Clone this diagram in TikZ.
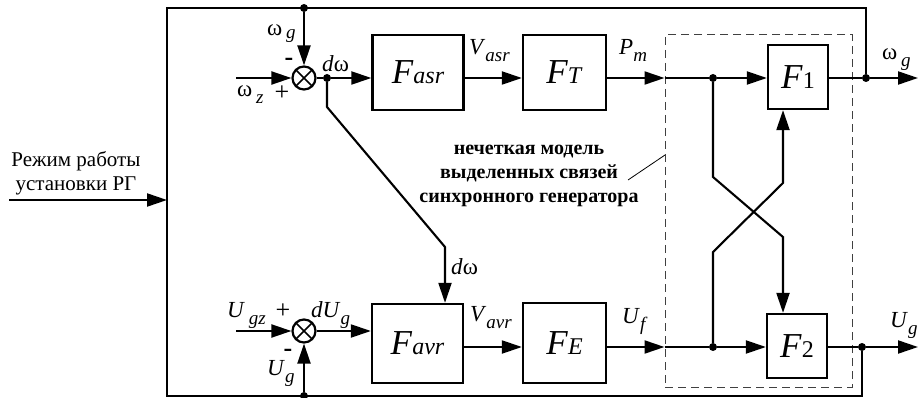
\documentclass[tikz,border=0pt]{standalone}
\usepackage{fontspec}
\setmainfont{Liberation Serif}
\usetikzlibrary{arrows.meta, calc}
\tikzset{
  >={Triangle[length=20pt, width=13pt]},
  every node/.style={font=\fontsize{21}{24}\selectfont},
  block/.style={
    rectangle, draw, line width=2.3pt, inner sep=0pt,
    minimum width=91pt, minimum height=75pt
  },
  fblock/.style={block, minimum width=60pt, minimum height=64pt},
  summer/.style={
    circle, draw, line width=2.2pt, minimum size=23pt, inner sep=0pt,
    path picture={\draw[line width=1.7pt]
      (path picture bounding box.south west) -- (path picture bounding box.north east)
      (path picture bounding box.north west) -- (path picture bounding box.south east);}
  },
  junction/.style={circle, fill, inner sep=0pt, minimum size=8pt},
  signal/.style={line width=2.1pt},
  flow/.style={signal, ->},
  model/.style={draw=black!75, line width=1pt, dash pattern=on 8pt off 5pt},
  leaderline/.style={line width=0.8pt},
  sig/.style={inner sep=0pt, anchor=base west, font=\fontsize{23}{23}\selectfont},
  sign/.style={inner sep=0pt, font=\fontsize{26}{26}\selectfont},
  note/.style={font=\fontsize{20}{24}\selectfont\bfseries, align=center}
}
\newcommand{\blk}[1]{{\fontsize{35}{35}\selectfont\textit{F}}{\fontsize{24}{24}\selectfont #1}}
\newcommand{\sbs}[2][7pt]{\raisebox{-#1}{\fontsize{19}{19}\selectfont\textit{#2}}}

\begin{document}
\begin{tikzpicture}[x=1pt, y=-1pt]
\useasboundingbox (0,0) rectangle (918,398);

% blocks
\node[summer] (sum1) at (304,78) {};
\node[summer] (sum2) at (304,331) {};
\node[block] (Fasr) at (418,72.5) {\blk{\textit{asr}}};
\node[block, minimum width=83pt] (FT) at (564.5,72.5) {\blk{\textit{T}}};
\node[block, minimum height=79pt] (Favr) at (417.5,343.5) {\blk{\textit{avr}}};
\node[block, minimum width=83pt, minimum height=80pt] (FE) at (564.5,343) {\blk{\textit{E}}};
\node[fblock] (F1) at (798,77) {\blk{1}};
\node[fblock] (F2) at (797,346) {\blk{2}};
\node[model, minimum width=187pt, minimum height=352pt] (fuzzy) at (758.5,211) {};

% junctions
\node[junction] (jw1) at (327,78) {};
\node[junction] (jtop) at (304,8) {};
\node[junction] (jbot) at (304,396) {};
\node[junction] (jp) at (713,78) {};
\node[junction] (juf) at (713,347) {};
\node[junction] (jwg) at (866,78) {};
\node[junction] (jug) at (862,347) {};

\coordinate (tl) at (167,8);
\coordinate (bl) at (167,396);
\coordinate (mode) at (167,200);
\coordinate (modein) at (9,200);
\coordinate (wz) at (236,78);
\coordinate (ugz) at (236,331);
\coordinate (wgout) at (918,78);
\coordinate (ugout) at (918,347);
\coordinate (dwa) at (327,107);
\coordinate (dwb) at (445,247);
\coordinate (c1) at (713,177);
\coordinate (c2) at (783,237);
\coordinate (c3) at (713,252);
\coordinate (c4) at (783,183);
\coordinate (leader) at (628,180);
\coordinate (leaderend) at (665,155);

% frame and feedback
\draw[signal] (jwg) |- (tl) -- (bl) -| (jug);
\draw[flow] (jtop) -- (sum1);
\draw[flow] (jbot) -- (sum2);
\draw[flow] (modein) -- (mode);

% speed channel
\draw[flow] (wz) -- (sum1);
\draw[signal] (sum1) -- (jw1);
\draw[flow] (jw1) -- (jw1 -| Fasr.west);
\draw[flow] (Fasr.east |- jw1) -- (FT.west |- jw1);
\draw[flow] (FT.east |- jw1) -- (fuzzy.west |- jw1);
\draw[signal] (fuzzy.west |- jw1) -- (jp);
\draw[flow] (jp) -- (jp -| F1.west);
\draw[signal] (F1.east |- jwg) -- (jwg);
\draw[flow] (jwg) -- (wgout);
\draw[flow] (jw1) -- (dwa) -- (dwb) -- (dwb |- Favr.north);

% voltage channel
\draw[flow] (ugz) -- (sum2);
\draw[flow] (sum2) -- (sum2 -| Favr.west);
\draw[flow] (Favr.east |- juf) -- (FE.west |- juf);
\draw[flow] (FE.east |- juf) -- (fuzzy.west |- juf);
\draw[signal] (fuzzy.west |- juf) -- (juf);
\draw[flow] (juf) -- (juf -| F2.west);
\draw[signal] (F2.east |- jug) -- (jug);
\draw[flow] (jug) -- (ugout);

% cross links
\draw[flow] (jp) -- (c1) -- (c2) -- (c2 |- F2.north);
\draw[flow] (juf) -- (c3) -- (c4) -- (c4 |- F1.south);

% labels
\node[align=center] (modetxt) at (76,173) {Режим работы\\установки РГ};
\node[sig] (lwg1) at (267,36) {ω\,\sbs[3pt]{g}};
\node[sign] (lmin1) at (289,62) {\textbf{-}};
\node[sig] (lwz) at (237,97) {ω\,\sbs{z}};
\node[sign] (lpl1) at (282,93) {+};
\node[sig] (ldw1) at (322,72) {\textit{d}ω};
\node[sig] (lvasr) at (469,55) {\textit{V}\sbs{asr}};
\node[sig] (lpm) at (619,55) {\textit{P}\sbs{m}};
\node[sig] (lwg2) at (882,60) {ω\,\sbs{g}};
\node[sig] (lugz) at (227,317) {\textit{U}\,\sbs{gz}};
\node[sign] (lpl2) at (283,311) {+};
\node[sig] (ldug) at (311,317) {\textit{dU}\sbs{g}};
\node[sign] (lmin2) at (288,353) {\textbf{-}};
\node[sig] (lug1) at (267,375) {\textit{U}\sbs{g}};
\node[sig] (ldw2) at (451,274) {\textit{d}ω};
\node[sig] (lvavr) at (470,321) {\textit{V}\sbs{avr}};
\node[sig] (luf) at (622,323) {\textit{U}\sbs{f}};
\node[sig] (lug2) at (890,327) {\textit{U}\sbs{g}};
\node[note] (notetxt) at (529,176) {нечеткая модель\\выделенных связей\\синхронного генератора};
\draw[leaderline] (leader) -- (leaderend);
\end{tikzpicture}
\end{document}
